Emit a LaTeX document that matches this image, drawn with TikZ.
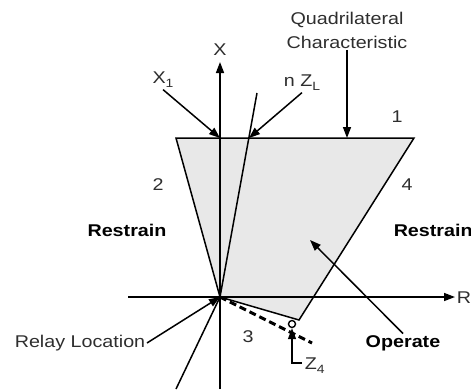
\documentclass[tikz,border=0pt]{standalone}
\usepackage{fontspec}
\setmainfont{Liberation Sans}[FakeStretch=1.16]
\usepackage{tikz}
\usetikzlibrary{arrows.meta}
\definecolor{QuadFill}{HTML}{E8E8E8}
\definecolor{QuadText}{HTML}{2E2E2E}
\newcommand{\lowidx}[1]{\raisebox{-4pt}{\fontsize{12}{12}\selectfont #1}}

\begin{document}
\begin{tikzpicture}[x=1pt,y=-1pt,line width=1.5pt,
    lbl/.style={text=QuadText,inner sep=1pt,font=\fontsize{17}{24}\selectfont},
    bold lbl/.style={lbl,text=black,font=\fontsize{17}{24}\selectfont\bfseries},
    tip/.style={-{Triangle[length=11pt,width=8pt]}}]
        \useasboundingbox (0,0) rectangle (471,389);

        % corners of the characteristic
        \coordinate (O) at (220,297);
        \coordinate (TL) at (176,138);
        \coordinate (TR) at (414,138);
        \coordinate (BR) at (299,320);
        \coordinate (topX) at (220,138);
        \coordinate (topZ) at (249,138);
        \coordinate (topQ) at (347,138);

        \fill[QuadFill] (TL) -- (TR) -- (BR) -- (O) -- cycle;
        \draw (TL) -- (TR) -- (BR) -- (O) -- cycle;

        % axes
        \coordinate (xbot) at (220,389);
        \coordinate (xtop) at (220,62);
        \coordinate (rleft) at (128,297);
        \coordinate (rright) at (455,297);
        \draw[tip] (xbot) -- (xtop);
        \draw[tip] (rleft) -- (rright);
        \node[lbl,anchor=south] (xlbl) at (220,57) {X};
        \node[lbl,anchor=west,inner sep=0pt] (rlbl) at (456,298) {R};

        % line impedance
        \coordinate (zlow) at (176,389);
        \coordinate (zhigh) at (257,93);
        \draw (zlow) -- (O) -- (zhigh);
        \coordinate (z4end) at (312,343);
        \draw[line width=3pt,dash pattern=on 7pt off 4pt] (O) -- (z4end);
        \node[draw,fill=white,circle,inner sep=0pt,minimum size=7pt,line width=1.4pt]
          (z4pt) at (292,324) {};

        % labels
        \node[lbl,align=center] (quad) at (347,30) {Quadrilateral\\Characteristic};
        \draw[tip] (quad.south) -- (topQ);
        \node[lbl] (x1) at (163,80) {X\lowidx{1}};
        \draw[tip] (x1.south) -- (topX);
        \node[lbl] (nzl) at (302,83) {n Z\lowidx{L}};
        \draw[tip] (nzl.south) -- (topZ);

        \node[lbl] (one) at (397,117) {1};
        \node[lbl] (two) at (158,185) {2};
        \node[lbl] (four) at (407,185) {4};
        \node[lbl] (three) at (248,337) {3};

        \node[bold lbl] (resl) at (127,230) {Restrain};
        \node[bold lbl,anchor=west] (resr) at (392,230) {Restrain};

        \coordinate (optip) at (310,240);
        \node[bold lbl] (op) at (403,343) {Operate};
        \draw[tip] (op.north) -- (optip);

        \node[lbl] (relay) at (80,343) {Relay Location};
        \draw[tip] (relay.east) -- (O);

        \coordinate (z4corner) at (292,363);
        \coordinate (z4leg) at (302,363);
        \draw[tip] (z4leg) -- (z4corner) -- (z4pt.south);
        \node[lbl,anchor=west] (z4) at (303,366) {Z\lowidx{4}};
      \end{tikzpicture}
\end{document}
